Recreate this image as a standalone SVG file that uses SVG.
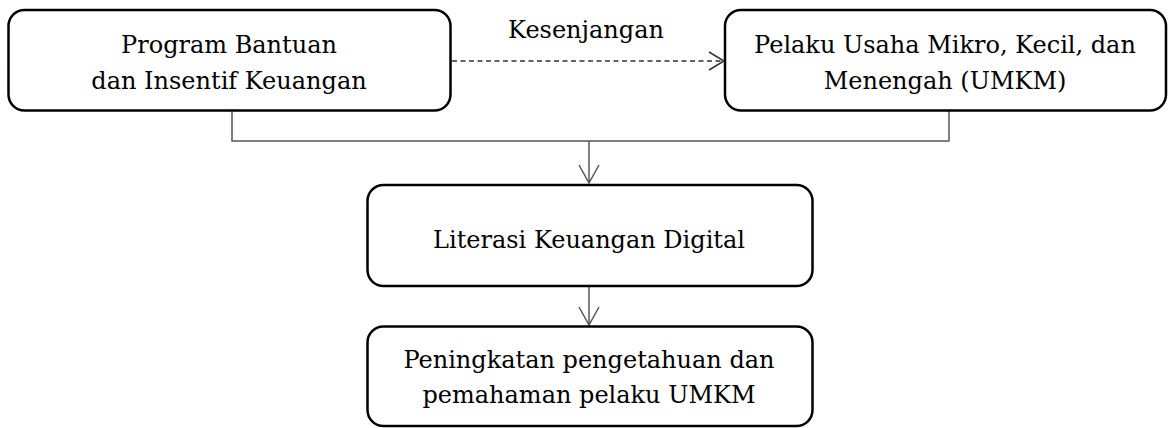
<svg xmlns="http://www.w3.org/2000/svg" width="1168" height="428" viewBox="0 0 1168 428">
<style>
.box{fill:#fff;stroke:#000;stroke-width:2.5}
.t{font-family:"DejaVu Serif","Liberation Serif",serif;font-size:24px;fill:#000;text-anchor:middle}
.c{fill:none;stroke:#555;stroke-width:1.5}
.d{fill:none;stroke:#333;stroke-width:1.5;stroke-dasharray:5 3.5}
.ah{fill:none;stroke:#333;stroke-width:1.5}
</style>
<rect width="1168" height="428" fill="#fff"/>
<g id="connectors">
<polyline class="c" points="232,110 232,141 949,141 949,110"/>
<line class="c" x1="589" y1="141" x2="589" y2="183"/>
<polyline class="c" points="579,165 589,183 599,165"/>
<line class="c" x1="589" y1="286" x2="589" y2="325"/>
<polyline class="c" points="579,307 589,325 599,307"/>
<line class="d" x1="452" y1="61" x2="723" y2="61"/>
<polyline class="ah" points="709,52 724,61 709,70"/>
<text class="t" x="586" y="38">Kesenjangan</text>
</g>
<g id="node-program">
<rect class="box" x="8.5" y="10" width="442" height="100.5" rx="16"/>
<text class="t" x="229" y="53">Program Bantuan</text>
<text class="t" x="229" y="89">dan Insentif Keuangan</text>
</g>
<g id="node-umkm">
<rect class="box" x="725" y="10" width="441" height="100.5" rx="16"/>
<text class="t" x="945" y="53">Pelaku Usaha Mikro, Kecil, dan</text>
<text class="t" x="945" y="89">Menengah (UMKM)</text>
</g>
<g id="node-literasi">
<rect class="box" x="367.5" y="185" width="445" height="101" rx="16"/>
<text class="t" x="589" y="248">Literasi Keuangan Digital</text>
</g>
<g id="node-peningkatan">
<rect class="box" x="367.5" y="326.5" width="445" height="99.5" rx="16"/>
<text class="t" x="589" y="368">Peningkatan pengetahuan dan</text>
<text class="t" x="589" y="403">pemahaman pelaku UMKM</text>
</g>
</svg>
